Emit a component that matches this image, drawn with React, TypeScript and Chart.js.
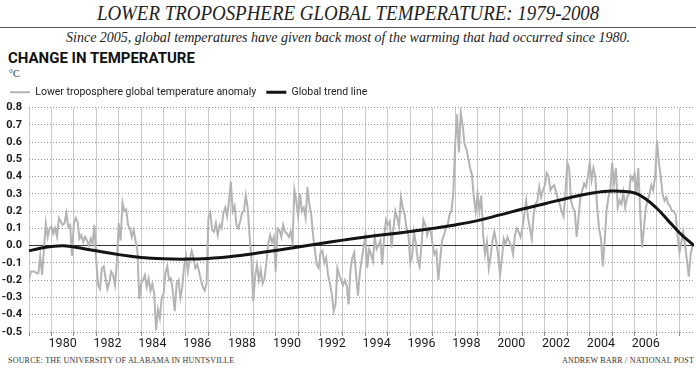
import React, { useEffect, useRef } from 'react';
import { Chart, registerables } from 'chart.js';

Chart.register(...registerables);

// Monthly lower-troposphere anomalies (°C), one array per year, Jan..Dec
const T1979 = [-0.2, -0.15, -0.15, -0.15, -0.16, -0.16, -0.06, -0.17, -0.02, 0.13, 0.05, 0.1];
const T1980 = [0.11, 0.07, 0.1, 0.05, 0.16, 0.14, 0.12, 0.13, 0.19, 0.11, 0.12, -0.06];
const T1981 = [0.13, 0.16, 0.14, 0.04, 0.06, 0.02, 0.05, 0.03, 0.0, 0.04, 0.01, 0.12];
const T1982 = [-0.09, -0.23, -0.25, -0.13, -0.12, -0.19, -0.25, -0.21, -0.15, -0.17, -0.23, -0.1];
const T1983 = [0.13, 0.03, 0.25, 0.2, 0.21, 0.12, 0.1, 0.05, 0.09, 0.03, -0.03, -0.31];
const T1984 = [-0.22, -0.2, -0.17, -0.24, -0.19, -0.26, -0.22, -0.28, -0.49, -0.37, -0.42, -0.3];
const T1985 = [-0.28, -0.16, -0.12, -0.2, -0.19, -0.27, -0.38, -0.22, -0.2, -0.3, -0.24, -0.12];
const T1986 = [-0.06, -0.15, -0.08, -0.03, -0.07, -0.13, -0.11, -0.15, -0.2, -0.24, -0.26, -0.22];
const T1987 = [0.16, 0.19, 0.09, 0.08, 0.13, 0.06, 0.12, 0.1, 0.19, 0.22, 0.17, 0.26];
const T1988 = [0.37, 0.2, 0.23, 0.12, 0.1, 0.14, 0.19, 0.2, 0.29, 0.22, 0.06, -0.08];
const T1989 = [-0.32, -0.18, -0.11, -0.2, -0.14, -0.22, -0.19, -0.1, 0.01, 0.06, 0.02, 0.05];
const T1990 = [-0.15, 0.1, 0.09, 0.05, 0.12, 0.08, 0.07, 0.05, 0.08, 0.02, 0.32, 0.26];
const T1991 = [0.17, 0.3, 0.2, 0.22, 0.16, 0.34, 0.24, 0.18, 0.06, -0.03, -0.11, -0.13];
const T1992 = [-0.04, -0.03, -0.1, -0.07, -0.17, -0.22, -0.28, -0.38, -0.34, -0.13, -0.17, -0.2];
const T1993 = [-0.23, -0.2, -0.23, -0.34, -0.14, -0.07, -0.04, -0.17, -0.29, -0.16, -0.08, -0.01];
const T1994 = [0.06, -0.13, -0.02, -0.05, -0.09, 0.05, -0.02, 0.0, 0.03, -0.11, 0.05, 0.15];
const T1995 = [0.12, 0.14, -0.01, 0.1, 0.2, 0.16, 0.11, 0.28, 0.22, 0.18, 0.1, 0.06];
const T1996 = [-0.1, -0.06, 0.08, 0.01, -0.08, -0.12, 0.0, 0.15, 0.12, 0.06, 0.1, 0.08];
const T1997 = [0.0, -0.05, -0.03, -0.2, -0.08, 0.03, 0.06, 0.1, 0.12, 0.18, 0.2, 0.3];
const T1998 = [0.58, 0.76, 0.54, 0.77, 0.7, 0.59, 0.56, 0.51, 0.45, 0.41, 0.28, 0.2];
const T1999 = [0.3, 0.2, 0.29, 0.06, -0.05, 0.02, -0.13, -0.06, 0.03, 0.08, 0.02, -0.05];
const T2000 = [-0.17, -0.08, 0.04, 0.01, 0.05, 0.02, 0.0, -0.05, 0.06, 0.1, 0.08, 0.05];
const T2001 = [0.1, 0.18, 0.26, 0.16, 0.1, 0.04, 0.18, 0.24, 0.26, 0.34, 0.28, 0.32];
const T2002 = [0.35, 0.42, 0.4, 0.32, 0.34, 0.35, 0.31, 0.27, 0.24, 0.2, 0.17, 0.3];
const T2003 = [0.48, 0.45, 0.26, 0.22, 0.2, 0.05, 0.16, 0.28, 0.32, 0.36, 0.34, 0.4];
const T2004 = [0.48, 0.38, 0.45, 0.4, 0.22, 0.1, 0.04, -0.12, 0.03, 0.2, 0.28, 0.32];
const T2005 = [0.48, 0.36, 0.45, 0.22, 0.26, 0.24, 0.31, 0.22, 0.28, 0.3, 0.4, 0.38];
const T2006 = [0.42, 0.3, 0.45, 0.2, -0.01, 0.1, 0.22, 0.26, 0.3, 0.35, 0.32, 0.4];
const T2007 = [0.61, 0.48, 0.4, 0.3, 0.26, 0.28, 0.24, 0.23, 0.2, 0.2, 0.18, 0.06];
const T2008 = [-0.04, 0.02, 0.08, 0.0, -0.08, -0.18, -0.05, 0.0];

const ANOMALY_YEARS = [
  T1979, T1980, T1981, T1982, T1983, T1984, T1985, T1986, T1987, T1988,
  T1989, T1990, T1991, T1992, T1993, T1994, T1995, T1996, T1997, T1998,
  T1999, T2000, T2001, T2002, T2003, T2004, T2005, T2006, T2007, T2008,
];
const START_YEAR = 1979;

// Global trend line knots
const TREND_X = [1979, 1979.5, 1980, 1980.5, 1981, 1982, 1983, 1984, 1985, 1986, 1987, 1988, 1989, 1990, 1991, 1992, 1993, 1994, 1995, 1996, 1997, 1998, 1999, 2000, 2001, 2002, 2003, 2004, 2005, 2006, 2006.5, 2007, 2007.5, 2008, 2008.65];
const TREND_Y = [-0.03, -0.015, -0.005, 0.0, -0.008, -0.03, -0.052, -0.068, -0.076, -0.078, -0.074, -0.063, -0.047, -0.028, -0.008, 0.013, 0.032, 0.05, 0.066, 0.082, 0.1, 0.12, 0.145, 0.178, 0.212, 0.243, 0.275, 0.302, 0.316, 0.305, 0.27, 0.215, 0.145, 0.075, 0.0];

const YEAR_LINES = [1979, 1980, 1981, 1982, 1983, 1984, 1985, 1986, 1987, 1988, 1989, 1990, 1991, 1992, 1993, 1994, 1995, 1996, 1997, 1998, 1999, 2000, 2001, 2002, 2003, 2004, 2005, 2006, 2007, 2008];
const LABEL_YEARS = [1980, 1982, 1984, 1986, 1988, 1990, 1992, 1994, 1996, 1998, 2000, 2002, 2004, 2006];
const X_MIN = 1979;
const X_MAX = 2008.65;
const Y_MIN = -0.5;
const Y_MAX = 0.8;
const Y_STEP = 0.1;

const LEGEND_ANOMALY = 'Lower troposphere global temperature anomaly';
const LEGEND_TREND = 'Global trend line';

const COND = "Roboto, 'Liberation Sans', sans-serif";
const SERIF = "'Liberation Serif', 'DejaVu Serif', serif";

function ChartCanvas() {
  const ref = useRef<HTMLCanvasElement | null>(null);
  useEffect(() => {
    if (!ref.current) return;
    const anomaly = ANOMALY_YEARS.flatMap((arr, yi) =>
      arr.map((v, m) => ({ x: START_YEAR + yi + m / 12, y: v }))
    );
    const trend = TREND_X.map((x, i) => ({ x, y: TREND_Y[i] }));
    const isYear = (v: any) => typeof v === 'number' && Math.abs(v - Math.round(v)) < 1e-6;
    const isZero = (v: any) => typeof v === 'number' && Math.abs(v) < 1e-6;

    const chart = new Chart(ref.current, {
      type: 'line',
      data: {
        datasets: [
          {
            label: LEGEND_ANOMALY,
            data: anomaly,
            borderColor: '#b4b4b4',
            backgroundColor: '#b4b4b4',
            borderWidth: 2,
            pointRadius: 0,
            tension: 0,
            order: 1,
          },
          {
            label: LEGEND_TREND,
            data: trend,
            borderColor: '#141414',
            backgroundColor: '#141414',
            borderWidth: 3,
            pointRadius: 0,
            tension: 0.4,
            order: 0,
          },
        ],
      },
      options: {
        animation: false,
        responsive: false,
        events: [],
        layout: { padding: { left: 0, right: 2, top: 0, bottom: 0 } },
        plugins: {
          tooltip: { enabled: false },
          legend: {
            display: true,
            position: 'top',
            align: 'start',
            labels: {
              usePointStyle: true,
              pointStyle: 'line',
              pointStyleWidth: 20,
              boxWidth: 20,
              boxHeight: 11,
              padding: 10,
              color: '#222',
              font: { family: COND, size: 10.5 },
              sort: (a: any, b: any) => a.datasetIndex - b.datasetIndex,
            },
          },
        },
        scales: {
          x: {
            type: 'linear',
            min: X_MIN,
            max: X_MAX,
            afterBuildTicks: (scale: any) => {
              const vals = [...YEAR_LINES, ...LABEL_YEARS.map((y) => y + 0.5)].sort((a, b) => a - b);
              scale.ticks = vals.map((v) => ({ value: v }));
            },
            afterFit: (scale: any) => {
              scale.height = 22;
            },
            ticks: {
              autoSkip: false,
              maxRotation: 0,
              minRotation: 0,
              padding: 0,
              color: '#1a1a1a',
              font: { family: COND, size: 12.5 },
              callback: (v: any) => {
                const y = Number(v) - 0.5;
                return LABEL_YEARS.includes(y) ? String(y) : '';
              },
            },
            grid: {
              color: (ctx: any) => (isYear(ctx.tick?.value) ? '#cacaca' : 'rgba(0,0,0,0)'),
              tickColor: (ctx: any) => (isYear(ctx.tick?.value) ? '#8c8c8c' : 'rgba(0,0,0,0)'),
              tickLength: 4,
              lineWidth: 1,
            },
            border: { display: false },
          },
          y: {
            min: Y_MIN,
            max: Y_MAX,
            afterFit: (scale: any) => {
              scale.width = 29;
            },
            ticks: {
              stepSize: Y_STEP,
              autoSkip: false,
              padding: 7,
              color: '#1a1a1a',
              font: { family: COND, size: 11, weight: 'bold' },
              callback: (v: any) => Number(v).toFixed(1),
            },
            grid: {
              color: (ctx: any) => (isZero(ctx.tick?.value) ? '#333333' : '#8f8f8f'),
              drawTicks: false,
              lineWidth: 1,
            },
            border: {
              display: false,
              dash: (ctx: any) => (isZero(ctx.tick?.value) ? [] : [1, 2]),
            },
          },
        },
      } as any,
    });
    return () => chart.destroy();
  }, []);
  return <canvas ref={ref} width={696} height={277} style={{ display: 'block' }} />;
}

export default function App() {
  const abs = (o: any) => ({ position: 'absolute', whiteSpace: 'nowrap', ...o } as React.CSSProperties);
  return (
    <div style={{ position: 'absolute', left: 0, top: 0, width: 696, height: 368, background: '#fff', overflow: 'hidden' }}>
      <div style={abs({ left: 0, top: 0, width: 696, textAlign: 'center', fontFamily: SERIF, fontStyle: 'italic', fontSize: 22, lineHeight: '26px', color: '#222' })}>
        <span style={{ display: 'inline-block', transform: 'scaleX(0.86)' }}>LOWER TROPOSPHERE GLOBAL TEMPERATURE: 1979-2008</span>
      </div>
      <div style={abs({ left: 0, top: 27, width: 696, height: 1, background: '#555' })} />
      <div style={abs({ left: 0, top: 29, width: 696, textAlign: 'center', fontFamily: SERIF, fontStyle: 'italic', fontSize: 14, lineHeight: '18px', color: '#222' })}>
        Since 2005, global temperatures have given back most of the warming that had occurred since 1980.
      </div>
      <div style={abs({ left: 8, top: 49, fontFamily: COND, fontWeight: 'bold', fontSize: 15, lineHeight: '18px', color: '#111' })}>
        CHANGE IN TEMPERATURE
      </div>
      <div style={abs({ left: 9, top: 68, fontFamily: SERIF, fontSize: 10, lineHeight: '12px', color: '#333' })}>°C</div>
      <div style={abs({ left: 0, top: 77, width: 696, height: 277 })}>
        <ChartCanvas />
      </div>
      <div style={abs({ left: 8, top: 356, fontFamily: SERIF, fontSize: 8, lineHeight: '10px', color: '#333', letterSpacing: 0.2 })}>
        SOURCE: THE UNIVERSITY OF ALABAMA IN HUNTSVILLE
      </div>
      <div style={abs({ right: 2, top: 356, fontFamily: SERIF, fontSize: 8, lineHeight: '10px', color: '#333', letterSpacing: 0.2 })}>
        ANDREW BARR / NATIONAL POST
      </div>
    </div>
  );
}
